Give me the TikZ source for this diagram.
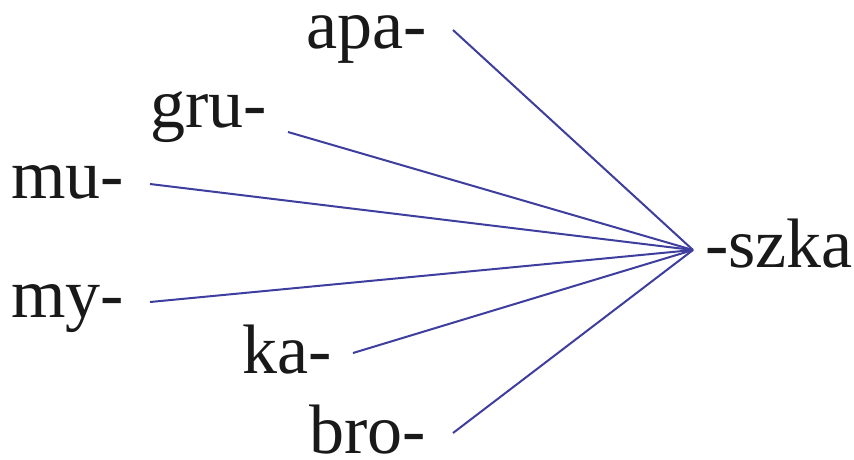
\documentclass[tikz,border=0pt]{standalone}
\usepackage{fontspec}
\setmainfont{Liberation Serif}
\usepackage{xcolor}
\usetikzlibrary{positioning}

\definecolor{linkblue}{HTML}{3E3E9E}

\begin{document}
\begin{tikzpicture}[
    x=1pt,y=-1pt,
    lbl/.style={
        inner sep=0pt,
        outer sep=0pt,
        text=black!90,
        font=\fontsize{70}{72}\selectfont
    },
    link/.style={
        draw=linkblue,
        line width=2pt
    }
]
\useasboundingbox (0,0) rectangle (854,459);

% suffix on the right
\node[lbl, anchor=base west] (szka) at (705,267) {-szka};
\coordinate (hub) at ([shift={(-12,-17)}]szka.base west);

% stems on the left
\node[lbl, anchor=base east] (apa) at (427,48)  {apa-};
\node[lbl, anchor=base east] (gru) at (267,127) {gru-};
\node[lbl, anchor=base east] (mu)  at (124,198) {mu-};
\node[lbl, anchor=base east] (my)  at (124,317) {my-};
\node[lbl, anchor=base east] (ka)  at (332,373) {ka-};
\node[lbl, anchor=base east] (bro) at (426,453) {bro-};

\draw[link] ([shift={(26,-18)}]apa.base east) -- (hub);
\draw[link] ([shift={(21,5)}]gru.base east)   -- (hub);
\draw[link] ([shift={(26,-14)}]mu.base east)  -- (hub);
\draw[link] ([shift={(26,-15)}]my.base east)  -- (hub);
\draw[link] ([shift={(21,-20)}]ka.base east)  -- (hub);
\draw[link] ([shift={(27,-20)}]bro.base east) -- (hub);

\end{tikzpicture}
\end{document}
